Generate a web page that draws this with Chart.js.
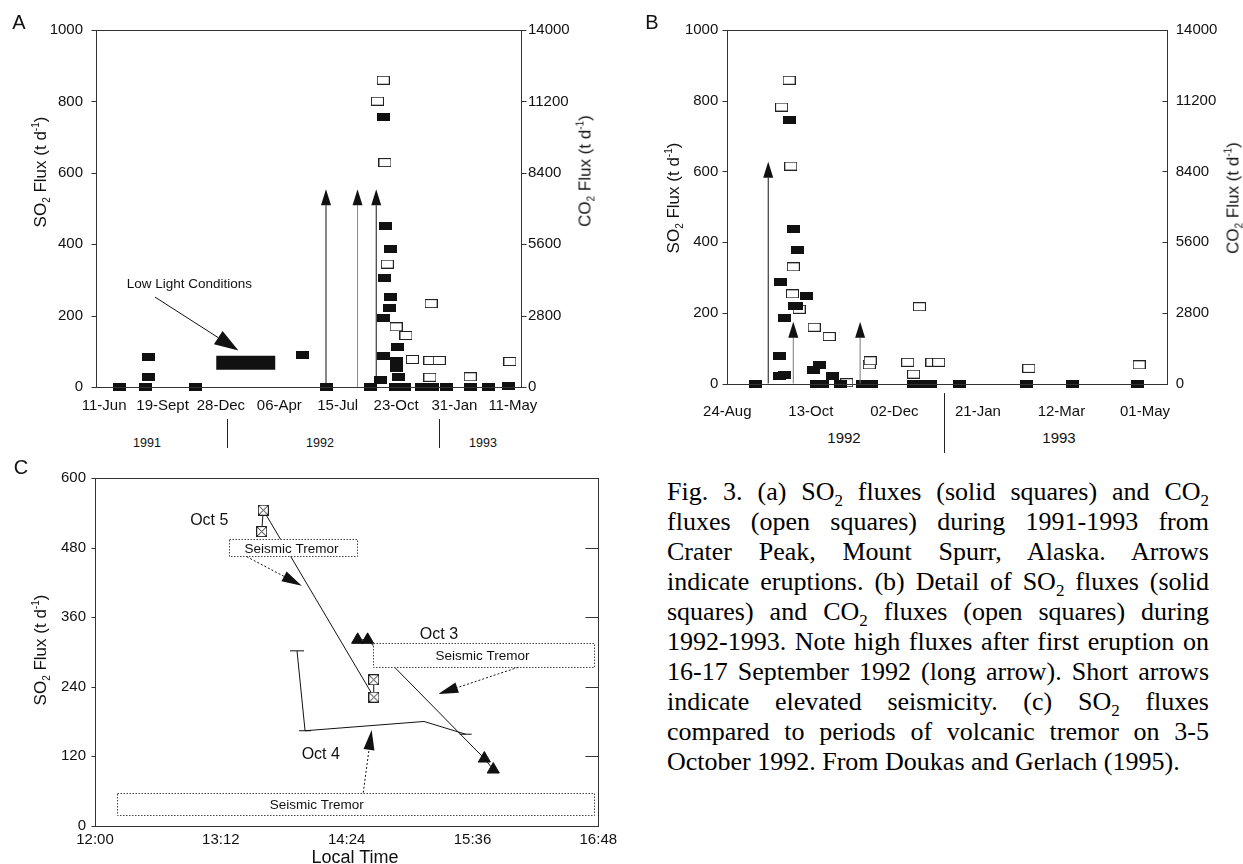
<!DOCTYPE html>
<html lang="en">
<head>
<meta charset="UTF-8">
<meta name="viewport" content="width=device-width, initial-scale=1.0">
<title>SO2 and CO2 fluxes - Crater Peak, Mount Spurr</title>
<script src="https://cdn.jsdelivr.net/npm/chart.js"></script>
<style>
    body {
        margin: 0;
        background: #fff;
        color: #111;
        font-family: 'Liberation Sans', Arial, sans-serif;
    }
    #page { position: relative; width: 1243px; height: 864px; overflow: hidden; }
    .panel { position: absolute; }
    .txt { position: absolute; transform: translate(-50%, -50%); white-space: nowrap; line-height: 1; }
    .letter { font-size: 20px; }
    .ytitle { font-size: 17px; transform: translate(-50%, -50%) rotate(-90deg); }
    .ytitle sub, .ytitle sup { font-size: 10px; line-height: 0; }
    .xtitle { font-size: 18px; }
    .yearA { font-size: 12.5px; }
    .yearB { font-size: 15px; }
    .sep { position: absolute; width: 1px; background: #222; }
    #caption {
        position: absolute;
        left: 667px;
        top: 477px;
        width: 542px;
        font-family: 'Liberation Serif', 'Times New Roman', serif;
        font-size: 26px;
        color: #000;
    }
    #caption div { height: 30px; line-height: 30px; text-align: justify; text-align-last: justify; }
    #caption div.last { text-align-last: left; }
    #caption sub { font-size: 17px; line-height: 0; }
</style>
</head>
<body>
<div id="page">
    <div class="panel" style="left:0;top:0;width:620px;height:420px"><canvas id="chartA"></canvas></div>
    <div class="panel" style="left:620px;top:0;width:623px;height:420px"><canvas id="chartB"></canvas></div>
    <div class="panel" style="left:0;top:460px;width:620px;height:404px"><canvas id="chartC"></canvas></div>

    <div class="txt letter" style="left:19px;top:22px">A</div>
    <div class="txt letter" style="left:652px;top:22px">B</div>
    <div class="txt letter" style="left:21px;top:467px">C</div>

    <div class="txt ytitle" style="left:40px;top:172px">SO<sub>2</sub> Flux (t d<sup>-1</sup>)</div>
    <div class="txt ytitle" style="left:585px;top:171px">CO<sub>2</sub> Flux (t d<sup>-1</sup>)</div>
    <div class="txt ytitle" style="left:673px;top:198px">SO<sub>2</sub> Flux (t d<sup>-1</sup>)</div>
    <div class="txt ytitle" style="left:1233px;top:198px">CO<sub>2</sub> Flux (t d<sup>-1</sup>)</div>
    <div class="txt ytitle" style="left:40px;top:650px">SO<sub>2</sub> Flux (t d<sup>-1</sup>)</div>
    <div class="txt xtitle" style="left:355px;top:857px">Local Time</div>

    <div class="txt yearA" style="left:147px;top:443px">1991</div>
    <div class="txt yearA" style="left:320px;top:443px">1992</div>
    <div class="txt yearA" style="left:483px;top:443px">1993</div>
    <div class="sep" style="left:227px;top:419px;height:29px"></div>
    <div class="sep" style="left:439px;top:419px;height:29px"></div>

    <div class="txt yearB" style="left:844px;top:437px">1992</div>
    <div class="txt yearB" style="left:1059px;top:437px">1993</div>
    <div class="sep" style="left:944px;top:393px;height:60px"></div>

    <div id="caption">
        <div>Fig. 3. (a) SO<sub>2</sub> fluxes (solid squares) and CO<sub>2</sub></div>
        <div>fluxes (open squares) during 1991-1993 from</div>
        <div>Crater Peak, Mount Spurr, Alaska. Arrows</div>
        <div>indicate eruptions. (b) Detail of SO<sub>2</sub> fluxes (solid</div>
        <div>squares) and CO<sub>2</sub> fluxes (open squares) during</div>
        <div>1992-1993. Note high fluxes after first eruption on</div>
        <div>16-17 September 1992 (long arrow). Short arrows</div>
        <div>indicate elevated seismicity. (c) SO<sub>2</sub> fluxes</div>
        <div>compared to periods of volcanic tremor on 3-5</div>
        <div class="last">October 1992. From Doukas and Gerlach (1995).</div>
    </div>
</div>

<script>
    // ---- Panel A: 1991-1993, x = days after 11 Jun 1991 ----
    const aDayTicks = [0, 100, 200, 300, 400, 500, 600, 700];
    const aDayLabels = ['11-Jun', '19-Sept', '28-Dec', '06-Apr', '15-Jul', '23-Oct', '31-Jan', '11-May'];
    const aSO2Ticks = [0, 200, 400, 600, 800, 1000];
    const aCO2Ticks = [0, 2800, 5600, 8400, 11200, 14000];

    const aSO2Days = [27, 71, 76, 76, 156, 340, 380, 456, 474, 478, 482, 491, 481, 491, 488, 478, 478, 503, 500, 500,
                      505, 499, 515, 543, 562, 587, 628, 659, 693];
    const aSO2Flux = [0, 0, 85, 29, 0, 89, 0, 0, 20, 755, 451, 387, 304, 253, 222, 193, 88, 111, 72, 53,
                      27, 0, 0, 0, 0, 0, 0, 0, 2];
    const aCO2Days = [468, 478, 481, 485, 500, 517, 528, 558, 558, 560, 574, 627, 695];
    const aCO2Flux = [11210, 12030, 8800, 4820, 2360, 2020, 1080, 1040, 380, 3270, 1040, 400, 1000];

    const aEruptionDays = [380, 434, 466];
    const aEruptionTip = 554;
    const aLowLightDays = [192, 293];
    const aLowLightFlux = [68, 68];

    // ---- Panel B: 1992-1993 detail, same day axis ----
    const bDayTicks = [440, 490, 540, 590, 640, 690];
    const bDayLabels = ['24-Aug', '13-Oct', '02-Dec', '21-Jan', '12-Mar', '01-May'];

    const bSO2Days = [457, 471, 474, 471, 474, 472, 477.5, 479.5, 482, 480, 481.5, 487.5, 491.5, 495, 503, 493.5, 497, 508, 521, 526.5,
                      551.5, 556.5, 561.5, 579, 619, 646.5, 685.5];
    const bSO2Flux = [0, 21, 25, 79, 184, 288, 744, 437, 379, 220, 218, 248, 39, 53, 21, 0, 0, 0, 0, 0,
                      0, 0, 0, 0, 0, 0, 0];
    const bCO2Days = [472.5, 477, 478, 479.5, 479, 483, 492, 501, 511.5, 525, 525.5, 548, 551.5, 555, 562.5, 566.5, 620.5, 686.5];
    const bCO2Flux = [10950, 12010, 8610, 4620, 3550, 2940, 2230, 1860, 30, 740, 900, 840, 370, 3040, 840, 840, 600, 740];

    const bLongArrowDays = [464.5];
    const bLongArrowTip = 627;
    const bShortArrowDays = [479.5, 519.5];
    const bShortArrowTip = 175;

    // ---- Panel C: 3-5 October 1992, x = minutes after midnight ----
    const cTimeTicks = [720, 792, 864, 936, 1008];
    const cTimeLabels = ['12:00', '13:12', '14:24', '15:36', '16:48'];
    const cFluxTicks = [0, 120, 240, 360, 480, 600];

    const cOct3Time = [870.3, 876.0, 942.8, 947.9];
    const cOct3Flux = [321, 321, 116, 97];
    const cOct4Time = [835.6, 840.2, 908.3, 932.1];
    const cOct4Flux = [302, 164, 180, 158];
    const cOct5Time = [815.4, 816.3, 879.6, 879.5];
    const cOct5Flux = [508, 545, 222, 252];

    const FONT = "'Liberation Sans', Arial, sans-serif";

    Chart.defaults.animation = false;
    Chart.defaults.events = [];
    Chart.defaults.color = '#111';
    Chart.defaults.font.family = FONT;
    Chart.defaults.plugins.legend.display = false;
    Chart.defaults.plugins.tooltip.enabled = false;

    function pairs(xs, ys) {
        return xs.map((x, i) => ({ x: x, y: ys[i] }));
    }

    function marker(w, h, paint) {
        const c = document.createElement('canvas');
        c.width = w;
        c.height = h;
        paint(c.getContext('2d'), w, h);
        return c;
    }

    const solidMark = marker(13, 8, (g, w, h) => {
        g.fillStyle = '#111';
        g.fillRect(0, 0, w, h);
    });
    const openMark = marker(13, 9, (g, w, h) => {
        g.fillStyle = '#fff';
        g.fillRect(0, 0, w, h);
        g.strokeStyle = '#222';
        g.lineWidth = 1;
        g.strokeRect(0.5, 0.5, w - 1, h - 1);
    });
    const crossMark = marker(11, 11, (g, w, h) => {
        g.fillStyle = '#fff';
        g.fillRect(0, 0, w, h);
        g.strokeStyle = '#222';
        g.lineWidth = 1;
        g.strokeRect(0.5, 0.5, w - 1, h - 1);
        g.beginPath();
        g.moveTo(1, 1); g.lineTo(w - 1, h - 1);
        g.moveTo(w - 1, 1); g.lineTo(1, h - 1);
        g.stroke();
    });

    function axis(o) {
        return {
            type: 'linear',
            position: o.position,
            min: o.min,
            max: o.max,
            grid: { display: false, drawTicks: false },
            border: { display: false },
            afterBuildTicks: s => { s.ticks = o.ticks.map(v => ({ value: v })); },
            afterFit: s => {
                // fixed box size so the plot area sits where the figure has it
                if (s.isHorizontal()) {
                    s.height = o.size;
                    s.paddingLeft = 0;
                    s.paddingRight = 0;
                } else {
                    s.width = o.size;
                    s.paddingTop = 0;
                    s.paddingBottom = 0;
                }
            },
            ticks: {
                autoSkip: false,
                maxRotation: 0,
                padding: o.padding,
                color: '#111',
                font: { family: FONT, size: 15 },
                callback: (v, i) => (o.labels ? o.labels[i] : String(v))
            }
        };
    }

    // frame, tick marks, tremor boxes, arrows and notes, all placed through the chart scales
    const figurePlugin = {
        id: 'figure',
        afterDatasetsDraw(chart, args, opts) {
            const g = chart.ctx;
            const area = chart.chartArea;
            const X = v => chart.scales.x.getPixelForValue(v);
            const Y = v => chart.scales.y.getPixelForValue(v);
            g.save();

            (opts.boxes || []).forEach(b => {
                const x0 = Math.round(X(b.from)) + 0.5, x1 = Math.round(X(b.to)) + 0.5;
                const y0 = Math.round(Y(b.high)) + 0.5, y1 = Math.round(Y(b.low)) + 0.5;
                g.fillStyle = '#fff';
                g.fillRect(x0, y0, x1 - x0, y1 - y0);
                g.setLineDash([1.5, 1.5]);
                g.strokeStyle = '#444';
                g.lineWidth = 1;
                g.strokeRect(x0, y0, x1 - x0, y1 - y0);
                g.setLineDash([]);
                g.fillStyle = '#111';
                g.font = '13.5px ' + FONT;
                g.textAlign = 'center';
                g.textBaseline = 'middle';
                g.fillText(b.text, X(b.textAt), (y0 + y1) / 2 + 1);
            });

            (opts.arrows || []).forEach(a => {
                const x0 = X(a.from[0]), y0 = Y(a.from[1]);
                const x1 = X(a.to[0]), y1 = Y(a.to[1]);
                const len = Math.hypot(x1 - x0, y1 - y0);
                const ux = (x1 - x0) / len, uy = (y1 - y0) / len;
                const bx = x1 - ux * a.head[0], by = y1 - uy * a.head[0];
                const hw = a.head[1] / 2;
                g.strokeStyle = a.color || '#111';
                g.lineWidth = 1;
                g.setLineDash(a.dash || []);
                g.beginPath();
                g.moveTo(x0, y0);
                g.lineTo(bx, by);
                g.stroke();
                g.setLineDash([]);
                g.fillStyle = '#111';
                g.beginPath();
                g.moveTo(x1, y1);
                g.lineTo(bx - uy * hw, by + ux * hw);
                g.lineTo(bx + uy * hw, by - ux * hw);
                g.closePath();
                g.fill();
            });

            (opts.notes || []).forEach(n => {
                g.fillStyle = '#111';
                g.font = n.size + 'px ' + FONT;
                g.textAlign = 'center';
                g.textBaseline = 'middle';
                g.fillText(n.text, X(n.at[0]), Y(n.at[1]));
            });

            const L = Math.round(area.left) + 0.5, R = Math.round(area.right) + 0.5;
            const T = Math.round(area.top) + 0.5, B = Math.round(area.bottom) + 0.5;
            g.strokeStyle = '#333';
            g.lineWidth = 1;
            g.strokeRect(L, T, R - L, B - T);
            (opts.tickMarks || []).forEach(m => {
                const s = chart.scales[m.scale];
                const x = m.side === 'left' ? L : R;
                s.ticks.forEach(t => {
                    const y = Math.round(s.getPixelForValue(t.value)) + 0.5;
                    g.beginPath();
                    g.moveTo(x, y);
                    g.lineTo(x + m.len, y);
                    g.stroke();
                });
            });
            g.restore();
        }
    };

    function eruptionArrows(days, tip, color) {
        return days.map(d => ({ from: [d, 0], to: [d, tip], head: [16, 10], color: color }));
    }

    // Panel A
    new Chart(document.getElementById('chartA'), {
        type: 'scatter',
        data: {
            datasets: [
                { data: pairs(aLowLightDays, aLowLightFlux), showLine: true, borderColor: '#111', borderWidth: 14,
                  borderCapStyle: 'butt', pointRadius: 0, clip: false },
                { data: pairs(aSO2Days, aSO2Flux), pointStyle: solidMark, pointRadius: 5, clip: false },
                { data: pairs(aCO2Days, aCO2Flux), yAxisID: 'y2', pointStyle: openMark, pointRadius: 5, clip: false }
            ]
        },
        options: {
            responsive: true,
            maintainAspectRatio: false,
            layout: { padding: { top: 30, left: 0, right: 0, bottom: 0 } },
            scales: {
                x: axis({ position: 'bottom', min: -14, max: 714, ticks: aDayTicks, labels: aDayLabels, size: 33, padding: 10 }),
                y: axis({ position: 'left', min: 0, max: 1000, ticks: aSO2Ticks, size: 96, padding: 13 }),
                y2: axis({ position: 'right', min: 0, max: 14000, ticks: aCO2Ticks, size: 99, padding: 7 })
            },
            plugins: {
                figure: {
                    arrows: [
                        { from: [87, 252], to: [230, 102], head: [24, 16] },
                        ...eruptionArrows([aEruptionDays[0]], aEruptionTip, '#111'),
                        ...eruptionArrows([aEruptionDays[1]], aEruptionTip, '#8a8a8a'),
                        ...eruptionArrows([aEruptionDays[2]], aEruptionTip, '#111')
                    ],
                    notes: [{ text: 'Low Light Conditions', at: [146, 289], size: 13.5 }],
                    tickMarks: [{ scale: 'y', side: 'left', len: -5 }, { scale: 'y2', side: 'right', len: 5 }]
                }
            }
        },
        plugins: [figurePlugin]
    });

    // Panel B
    new Chart(document.getElementById('chartB'), {
        type: 'scatter',
        data: {
            datasets: [
                { data: pairs(bSO2Days, bSO2Flux), pointStyle: solidMark, pointRadius: 5, clip: false },
                { data: pairs(bCO2Days, bCO2Flux), yAxisID: 'y2', pointStyle: openMark, pointRadius: 5, clip: false }
            ]
        },
        options: {
            responsive: true,
            maintainAspectRatio: false,
            layout: { padding: { top: 30, left: 0, right: 0, bottom: 0 } },
            scales: {
                x: axis({ position: 'bottom', min: 440, max: 703, ticks: bDayTicks, labels: bDayLabels, size: 36.5, padding: 19 }),
                y: axis({ position: 'left', min: 0, max: 1000, ticks: aSO2Ticks, size: 107.3, padding: 9 }),
                y2: axis({ position: 'right', min: 0, max: 14000, ticks: aCO2Ticks, size: 76.3, padding: 9 })
            },
            plugins: {
                figure: {
                    arrows: [
                        ...eruptionArrows(bLongArrowDays, bLongArrowTip, '#111'),
                        ...eruptionArrows(bShortArrowDays, bShortArrowTip, '#7a7a7a')
                    ],
                    tickMarks: [{ scale: 'y', side: 'left', len: -5 }, { scale: 'y2', side: 'right', len: -5 }]
                }
            }
        },
        plugins: [figurePlugin]
    });

    // Panel C
    new Chart(document.getElementById('chartC'), {
        type: 'scatter',
        data: {
            datasets: [
                { data: pairs(cOct5Time, cOct5Flux), showLine: true, borderColor: '#111', borderWidth: 1,
                  pointStyle: crossMark, pointRadius: 5, clip: false },
                { data: pairs(cOct3Time, cOct3Flux), showLine: true, borderColor: '#111', borderWidth: 1,
                  pointStyle: 'triangle', pointRadius: 7, backgroundColor: '#111', pointBackgroundColor: '#111',
                  pointBorderColor: '#111', clip: false },
                { data: pairs(cOct4Time, cOct4Flux), showLine: true, borderColor: '#111', borderWidth: 1,
                  pointStyle: 'line', pointRadius: [7, 6, 0, 6], pointBorderColor: '#111', pointBorderWidth: 1, clip: false }
            ]
        },
        options: {
            responsive: true,
            maintainAspectRatio: false,
            layout: { padding: { top: 18.3, left: 0, right: 21.7, bottom: 0 } },
            scales: {
                x: axis({ position: 'bottom', min: 720, max: 1008, ticks: cTimeTicks, labels: cTimeLabels, size: 38.3, padding: 5 }),
                y: axis({ position: 'left', min: 0, max: 600, ticks: cFluxTicks, size: 95, padding: 9 })
            },
            plugins: {
                figure: {
                    boxes: [
                        { from: 796.8, to: 870.1, low: 466, high: 496, text: 'Seismic Tremor', textAt: 832.4 },
                        { from: 878.8, to: 1005.7, low: 274, high: 315, text: 'Seismic Tremor', textAt: 941.8 },
                        { from: 732.8, to: 1005.7, low: 18.5, high: 57, text: 'Seismic Tremor', textAt: 846.9 }
                    ],
                    arrows: [
                        { from: [806.8, 464.6], to: [838.3, 414.5], head: [20, 11], dash: [2, 2] },
                        { from: [962.2, 273.6], to: [916.4, 227.5], head: [20, 11], dash: [2, 2] },
                        { from: [873.5, 57], to: [878.3, 165.3], head: [20, 11], dash: [2, 2] }
                    ],
                    notes: [
                        { text: 'Oct 5', at: [785.4, 527.8], size: 16 },
                        { text: 'Oct 3', at: [916.8, 330.6], size: 16 },
                        { text: 'Oct 4', at: [849.2, 123.3], size: 16 }
                    ],
                    tickMarks: [{ scale: 'y', side: 'left', len: -4 }, { scale: 'y', side: 'right', len: -13 }]
                }
            }
        },
        plugins: [figurePlugin]
    });
</script>
</body>
</html>
